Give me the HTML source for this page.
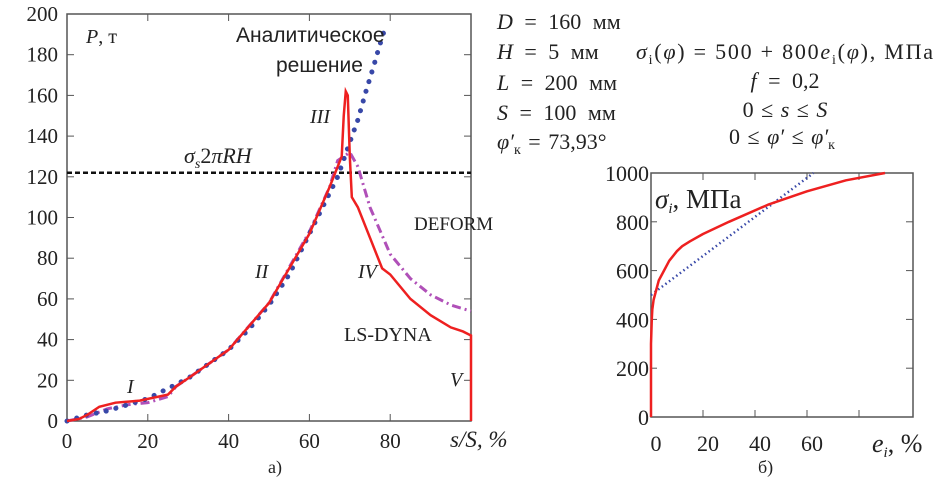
<!DOCTYPE html>
<html><head><meta charset="utf-8">
<style>
body{margin:0;background:#fff;width:945px;height:482px;overflow:hidden}
svg text{font-family:"Liberation Serif","DejaVu Serif",serif;fill:#222}
</style></head>
<body>
<svg id="s" width="945" height="482">
<g id="a"></g>
<g id="b"></g>
<g font-size="22" style="font-style:normal">
<text x="497" y="29" word-spacing="6"><tspan font-style="italic">D</tspan> = 160 мм</text>
<text x="497" y="59" word-spacing="6"><tspan font-style="italic">H</tspan> = 5 мм</text>
<text x="497" y="90" word-spacing="6"><tspan font-style="italic">L</tspan> = 200 мм</text>
<text x="497" y="120" word-spacing="6"><tspan font-style="italic">S</tspan> = 100 мм</text>
<text x="497" y="149" word-spacing="2"><tspan font-style="italic">φ′</tspan><tspan font-size="14" dy="5">к</tspan><tspan dy="-5"> = 73,93°</tspan></text>
<text x="636" y="59" textLength="297" lengthAdjust="spacing"><tspan font-style="italic">σ</tspan><tspan font-size="14" dy="5">i</tspan><tspan dy="-5">(</tspan><tspan font-style="italic">φ</tspan>) = 500 + 800<tspan font-style="italic">e</tspan><tspan font-size="14" dy="5">i</tspan><tspan dy="-5">(</tspan><tspan font-style="italic">φ</tspan>), МПа</text>
<text x="785" y="88" text-anchor="middle" word-spacing="6"><tspan font-style="italic">f</tspan> = 0,2</text>
<text x="785" y="117" text-anchor="middle" word-spacing="2">0 ≤ <tspan font-style="italic">s</tspan> ≤ <tspan font-style="italic">S</tspan></text>
<text x="782" y="144" text-anchor="middle" word-spacing="2">0 ≤ <tspan font-style="italic">φ′</tspan> ≤ <tspan font-style="italic">φ′</tspan><tspan font-size="14" dy="5">к</tspan></text>
</g>
</svg>
<script>
// Chart a data
const catS = [0,5,10,15,20,23,26,30,35,40,45,50,55,60,65,67,70,72,74,76,77,79];
const analytic = [0,3,5,8,11,14,17,21,28,35,45,57,72,92,112,120,137,148,162,175,182,195];
const lsS = [0,3,5,8,12,18,25,27,30,40,50,60,65,68,68.5,69,69.5,70,70.5,72,75,78,80,85,90,95,98,100,100];
const lsP = [0,1,3,7,9,10,13,17,21,35,58,92,115,130,150,162,160,130,110,105,90,75,72,60,52,46,44,42,0];
const dfS = [0,5,10,15,20,25,27,30,40,50,60,65,67,70,72,75,80,85,90,95,100];
const dfP = [0,2,6,8,9,12,17,21,35,58,93,115,128,132,125,105,82,70,62,57,54];
const yTicksA = [0,20,40,60,80,100,120,140,160,180,200];
const xTicksA = [0,20,40,60,80];
const sigmaLine = 122;
// Chart b data
const eRed = [0,0,0.3,0.5,1,2,3,5,7,10,12,15,20,30,45,60,75,90];
const sRed = [0,300,400,440,480,520,560,600,640,680,700,720,750,800,870,925,970,1000];
const eBlue = [0,10,20,30,40,50,60,62.5];
const sBlue = [500,580,660,740,820,900,980,1000];
const yTicksB = [0,200,400,600,800,1000];
const xTicksB = [0,20,40,60];

const NS="http://www.w3.org/2000/svg";
function mk(p,t,at){const e=document.createElementNS(NS,t);for(const k in at)e.setAttribute(k,at[k]);p.appendChild(e);return e;}
const A=document.getElementById('a'),B=document.getElementById('b');
const xa=v=>67+v*4.04, ya=v=>421-v*2.035;
const xb=v=>651+v*2.6, yb=v=>417-v*0.244;

let f=mk(A,'rect',{x:67,y:14,width:404,height:407,fill:'none',stroke:'#555','stroke-width':1.5});

yTicksA.forEach(v=>{
 mk(A,'line',{x1:67,x2:74,y1:ya(v),y2:ya(v),stroke:'#555'});
 mk(A,'line',{x1:464,x2:471,y1:ya(v),y2:ya(v),stroke:'#555'});
 const t=mk(A,'text',{x:58,y:ya(v)+7,'text-anchor':'end','font-size':21});t.textContent=v;
 
});
xTicksA.forEach(v=>{
 mk(A,'line',{x1:xa(v),x2:xa(v),y1:421,y2:414,stroke:'#555'});
 mk(A,'line',{x1:xa(v),x2:xa(v),y1:14,y2:21,stroke:'#555'});
 const t=mk(A,'text',{x:xa(v),y:448,'text-anchor':'middle','font-size':21});t.textContent=v;
 
});
let l=mk(A,'line',{x1:67,x2:471,y1:ya(sigmaLine),y2:ya(sigmaLine),stroke:'#111','stroke-width':2.5,'stroke-dasharray':'5,3'});

const pts=(xs,ys,fx,fy)=>xs.map((x,i)=>fx(x)+','+fy(ys[i])).join(' ');
l=mk(A,'polyline',{points:pts(dfS,dfP,xa,ya),fill:'none',stroke:'#b050b8','stroke-width':3,'stroke-dasharray':'9,4,2,4'});

l=mk(A,'polyline',{points:pts(catS,analytic,xa,ya),fill:'none',stroke:'#3848a8','stroke-width':5,'stroke-dasharray':'0.1,10','stroke-linecap':'round'});

l=mk(A,'polyline',{points:pts(lsS,lsP,xa,ya),fill:'none',stroke:'#ee2020','stroke-width':2.5});

const lbl=(p,x,y,txt,sz,name,extra)=>{const t=mk(p,'text',Object.assign({x:x,y:y,'font-size':sz},extra||{}));t.innerHTML=txt;return t;};
lbl(A,86,43,'<tspan font-style="italic">P</tspan>, т',20,'y-axis-title');
lbl(A,236,42,'Аналитическое',21,'analytic-label',{style:'font-family:"Liberation Sans",sans-serif'});
lbl(A,276,72,'решение',21,'analytic-label-2',{style:'font-family:"Liberation Sans",sans-serif'});
lbl(A,310,123,'III',20,'zone-III',{'font-style':'italic'});
lbl(A,184,163,'<tspan font-style="italic">σ</tspan><tspan font-size="14" dy="5" font-style="italic">s</tspan><tspan dy="-5">2</tspan><tspan font-style="italic">πRH</tspan>',22,'sigma-label');
lbl(A,414,230,'DEFORM',19,'deform-label',{fill:'#4a4a20'});
lbl(A,255,278,'II',20,'zone-II',{'font-style':'italic'});
lbl(A,358,278,'IV',20,'zone-IV',{'font-style':'italic'});
lbl(A,344,341,'LS-DYNA',20,'ls-dyna-label');
lbl(A,127,393,'I',20,'zone-I',{'font-style':'italic'});
lbl(A,450,386,'V',20,'zone-V',{'font-style':'italic'});
lbl(A,450,447,'s/S, %',23,'x-axis-title',{'font-style':'italic'});
lbl(A,268,473,'а)',18,'caption-a');

f=mk(B,'rect',{x:651,y:173,width:262,height:244,fill:'none',stroke:'#555','stroke-width':1.5});

yTicksB.forEach(v=>{
 mk(B,'line',{x1:651,x2:657,y1:yb(v),y2:yb(v),stroke:'#555'});
 mk(B,'line',{x1:906,x2:913,y1:yb(v),y2:yb(v),stroke:'#555'});
 const t=mk(B,'text',{x:649,y:yb(v)+8,'text-anchor':'end','font-size':22});t.textContent=v;
 
});
[20,40,60,80].forEach(v=>{
 mk(B,'line',{x1:xb(v),x2:xb(v),y1:417,y2:410,stroke:'#555'});
 mk(B,'line',{x1:xb(v),x2:xb(v),y1:173,y2:180,stroke:'#555'});
});
xTicksB.forEach(v=>{
 const t=mk(B,'text',{x:xb(v)+5,y:451,'text-anchor':'middle','font-size':22});t.textContent=v;
 
});
l=mk(B,'polyline',{points:pts(eBlue,sBlue,xb,yb),fill:'none',stroke:'#3848a8','stroke-width':2.5,'stroke-dasharray':'1.5,3'});

l=mk(B,'polyline',{points:pts(eRed,sRed,xb,yb),fill:'none',stroke:'#ee2020','stroke-width':2.5,'stroke-linejoin':'round'});

lbl(B,655,208,'<tspan font-style="italic">σ</tspan><tspan font-size="15" dy="5" font-style="italic">i</tspan><tspan dy="-5">, МПа</tspan>',27,'y-axis-title-b');
lbl(B,872,452,'<tspan font-style="italic">e</tspan><tspan font-size="15" dy="5" font-style="italic">i</tspan><tspan dy="-5">, %</tspan>',26,'x-axis-title-b');
lbl(B,758,473,'б)',18,'caption-b');
</script>
</body></html>
